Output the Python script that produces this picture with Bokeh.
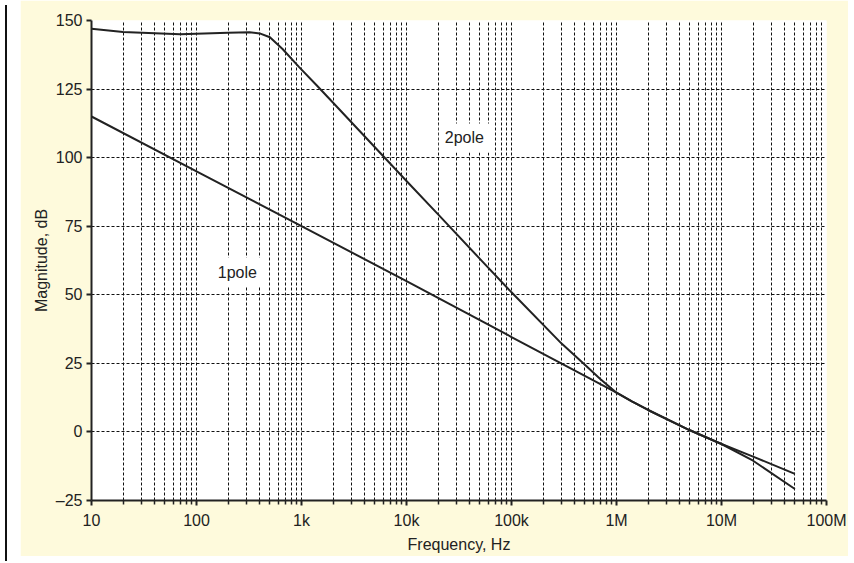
from bokeh.plotting import figure
from bokeh.models import FixedTicker, Range1d, Label, Div
from bokeh.layouts import row
from bokeh.embed import file_html
from bokeh.resources import INLINE

# ---- data ----
freq_1pole = [10, 100, 1e3, 1e4, 1e5, 1e6, 1.4e6, 2e6, 5e6, 1e7, 2e7, 5e7]
mag_1pole = [115, 95, 75, 55, 34.6, 14.3, 11.1, 8, 0.6, -4.4, -9, -15.3]

freq_2pole = [10, 20, 70, 200, 320, 400, 500, 660, 950, 1.4e3, 2e3, 5e3, 1e4,
              2e4, 5e4, 1e5, 3e5, 5e5, 7e5, 1e6, 1.4e6, 2e6, 5e6, 1e7, 2e7, 5e7]
mag_2pole = [147, 145.8, 145, 145.5, 145.7, 145.3, 143.9, 139.6, 133, 126.3,
             120, 103.8, 91.5, 79.3, 63.1, 50.9, 32.2, 24.5, 19.3, 14.3, 11.1,
             8, 0.6, -4.4, -10.5, -20.8]

x_ticks = [10, 100, 1000, 10000, 100000, 1000000, 10000000, 100000000]
x_tick_labels = ["10", "100", "1k", "10k", "100k", "1M", "10M", "100M"]
y_ticks = [-25, 0, 25, 50, 75, 100, 125, 150]
y_tick_labels = ["\u201325", "0", "25", "50", "75", "100", "125", "150"]

FONT = "Liberation Sans"
INK = "#222222"
GRID = "#111111"
YELLOW = "#fefadc"

x_minor = [k * d for d in x_ticks[:-1] for k in range(2, 10)]

p = figure(
    x_axis_type="log",
    x_range=Range1d(10, 1e8),
    y_range=Range1d(-25, 150),
    frame_width=735, frame_height=480,
    min_border_left=71, min_border_right=22,
    min_border_top=20, min_border_bottom=56,
    output_backend="svg", toolbar_location=None,
    border_fill_color=YELLOW, background_fill_color="white",
    outline_line_color=None,
)

p.xaxis.ticker = FixedTicker(ticks=x_ticks, minor_ticks=x_minor)
p.xaxis.major_label_overrides = dict(zip(x_ticks, x_tick_labels))
p.yaxis.ticker = FixedTicker(ticks=y_ticks, minor_ticks=[])
p.yaxis.major_label_overrides = dict(zip(y_ticks, y_tick_labels))

for ax in (p.xaxis, p.yaxis):
    ax.axis_line_width = 2
    ax.axis_line_color = INK
    ax.major_tick_line_color = INK
    ax.major_tick_line_width = 2
    ax.major_tick_in = 0
    ax.major_tick_out = 5
    ax.major_label_text_font = FONT
    ax.major_label_text_font_size = "16px"
    ax.major_label_text_color = INK
    ax.axis_label_text_font = FONT
    ax.axis_label_text_font_size = "16px"
    ax.axis_label_text_font_style = "normal"
    ax.axis_label_text_color = INK

p.xaxis.minor_tick_line_color = INK
p.xaxis.minor_tick_line_width = 1.5
p.xaxis.minor_tick_in = 0
p.xaxis.minor_tick_out = 4
p.yaxis.minor_tick_line_color = None

p.xaxis.axis_label = "Frequency, Hz"
p.yaxis.axis_label = "Magnitude, dB"
p.xaxis.major_label_standoff = 6
p.xaxis.axis_label_standoff = 4
p.yaxis.major_label_standoff = 4
p.yaxis.axis_label_standoff = 3

for g in (p.xgrid, p.ygrid):
    g.grid_line_color = GRID
    g.grid_line_dash = "3 2"
    g.grid_line_width = 1
p.xgrid.minor_grid_line_color = GRID
p.xgrid.minor_grid_line_dash = "3 2"
p.xgrid.minor_grid_line_width = 1

p.line(freq_1pole, mag_1pole, line_color=INK, line_width=2)
p.line(freq_2pole, mag_2pole, line_color=INK, line_width=2)

for xx, yy, txt in [(245, 58.3, "1pole"), (35600, 107.2, "2pole")]:
    p.add_layout(Label(x=xx, y=yy, text=txt, text_font=FONT,
                       text_font_size="16px", text_color=INK,
                       text_align="center", text_baseline="middle",
                       background_fill_color="white", padding=6))

bar = Div(text="", width=10, height=556,
          styles={"border-left": "2px solid #111111", "box-sizing": "border-box"})

layout = row(bar, p)
open("out.html", "w").write(file_html(layout, INLINE))
